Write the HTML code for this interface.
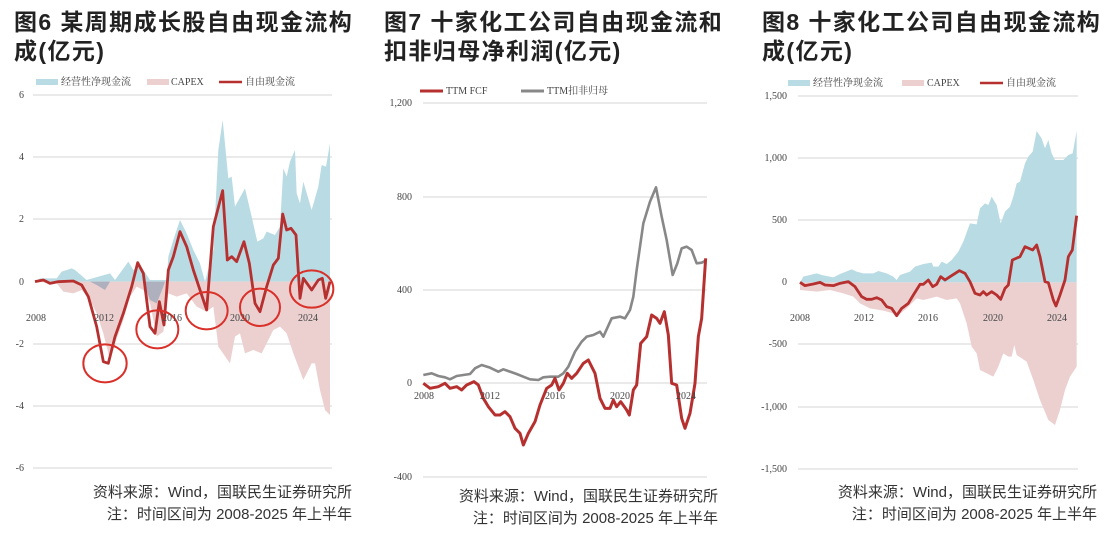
<!DOCTYPE html>
<html><head><meta charset="utf-8"><style>
body{margin:0;background:#fff;width:1114px;height:540px;overflow:hidden;font-family:"Liberation Sans","Noto Sans CJK SC",sans-serif}
.t{position:absolute;font-weight:bold;font-size:23px;letter-spacing:1.4px;line-height:29px;color:#222;font-family:"Liberation Sans","Noto Sans CJK SC",sans-serif}
.s{position:absolute;font-size:15px;line-height:22px;color:#333;text-align:right}
svg{position:absolute;left:0;top:0}
svg text{font-family:"Liberation Serif","Noto Serif CJK SC",serif;font-size:10px;fill:#444}
</style></head><body>
<div class="t" style="left:14px;top:8px">图6 某周期成长股自由现金流构<br>成(亿元)</div>
<div class="t" style="left:384px;top:8px">图7 十家化工公司自由现金流和<br>扣非归母净利润(亿元)</div>
<div class="t" style="left:762px;top:8px">图8 十家化工公司自由现金流构<br>成(亿元)</div>
<div class="s" style="right:762px;top:482px">资料来源：Wind，国联民生证券研究所<br>注：时间区间为 2008-2025 年上半年</div>
<div class="s" style="right:396px;top:486px">资料来源：Wind，国联民生证券研究所<br>注：时间区间为 2008-2025 年上半年</div>
<div class="s" style="right:17px;top:482px">资料来源：Wind，国联民生证券研究所<br>注：时间区间为 2008-2025 年上半年</div>
<svg width="1114" height="540">
<!-- chart 1 -->
<g stroke="#e4e4e4" stroke-width="1.5">
<line x1="33" x2="332" y1="95" y2="95"/><line x1="33" x2="332" y1="157" y2="157"/><line x1="33" x2="332" y1="219" y2="219"/><line x1="33" x2="332" y1="344" y2="344"/><line x1="33" x2="332" y1="406" y2="406"/><line x1="33" x2="332" y1="468" y2="468"/>
</g>
<g transform="translate(0 60) scale(0.33333)">
<polygon fill="#b9dbe3" points="105,665 120,655 170,655 185,635 215,625 225,630 260,660 330,640 345,660 385,605 400,630 420,615 450,660 500,660 505,590 520,540 540,480 560,520 580,570 600,610 615,665 640,570 655,270 668,180 685,355 695,350 705,440 735,385 755,470 772,545 790,535 800,515 825,525 840,500 850,325 860,350 870,305 885,270 890,400 900,430 910,365 935,450 955,380 965,315 978,320 990,250 990,665"/>
<polygon fill="#ecd0d0" points="105,665 170,670 190,695 220,700 245,690 270,720 290,760 310,820 330,900 345,850 370,780 390,710 410,680 430,690 450,730 470,830 490,815 505,700 530,710 560,700 590,740 620,755 640,740 655,860 690,910 705,830 720,820 735,880 760,870 785,880 820,810 840,800 860,820 880,880 910,960 935,910 945,910 960,990 975,1050 990,1065 990,665"/>
<polygon fill="#aeb0bd" points="270,665 290,675 315,690 330,665"/>
<polygon fill="#aeb0bd" points="430,665 450,720 470,730 490,680 495,665"/>
<polyline fill="none" stroke="#b5302f" stroke-width="2.8" vector-effect="non-scaling-stroke" stroke-linejoin="round" points="105,665 130,660 150,670 175,665 220,663 245,675 265,710 290,800 310,905 325,910 345,830 370,760 395,680 413,608 430,640 450,800 465,820 478,725 492,795 505,630 520,590 540,515 560,560 580,630 600,690 620,750 640,500 668,392 682,600 695,590 710,605 732,545 748,610 765,730 780,755 800,680 820,615 835,595 848,462 860,510 873,505 888,525 900,715 910,655 935,690 955,660 967,655 977,715 990,665"/>
<g fill="none" stroke="#d9302a" stroke-width="2">
<ellipse cx="315" cy="910" rx="65" ry="57" vector-effect="non-scaling-stroke"/>
<ellipse cx="472" cy="808" rx="63" ry="57" vector-effect="non-scaling-stroke"/>
<ellipse cx="620" cy="752" rx="63" ry="56" vector-effect="non-scaling-stroke"/>
<ellipse cx="780" cy="742" rx="60" ry="56" vector-effect="non-scaling-stroke"/>
<ellipse cx="935" cy="687" rx="65" ry="56" vector-effect="non-scaling-stroke"/>
</g>
</g>
<g text-anchor="end"><text x="24" y="98">6</text><text x="24" y="160">4</text><text x="24" y="222">2</text><text x="24" y="285">0</text><text x="24" y="347">-2</text><text x="24" y="409">-4</text><text x="24" y="471">-6</text></g>
<g text-anchor="middle"><text x="36" y="321">2008</text><text x="104" y="321">2012</text><text x="172" y="321">2016</text><text x="240" y="321">2020</text><text x="308" y="321">2024</text></g>
<rect x="36" y="79" width="22" height="6" fill="#b9dbe3"/><text x="61" y="85">经营性净现金流</text>
<rect x="147" y="79" width="22" height="6" fill="#ecd0d0"/><text x="171" y="85">CAPEX</text>
<line x1="219" x2="242" y1="82" y2="82" stroke="#b5302f" stroke-width="2.5"/><text x="245" y="85">自由现金流</text>

<!-- chart 2 -->
<g stroke="#e4e4e4" stroke-width="1.5">
<line x1="423" x2="707" y1="103" y2="103"/><line x1="423" x2="707" y1="197" y2="197"/><line x1="423" x2="707" y1="290" y2="290"/><line x1="423" x2="707" y1="383" y2="383"/><line x1="423" x2="707" y1="477" y2="477"/>
</g>
<g transform="translate(380 70) scale(0.33333)" fill="none" stroke-linejoin="round">
<polyline stroke="#888" stroke-width="2.6" vector-effect="non-scaling-stroke" points="130,915 155,910 175,918 195,922 210,928 230,918 250,915 270,912 285,895 305,885 330,893 355,905 370,898 390,905 410,912 430,920 450,928 475,930 490,922 510,920 535,920 550,910 565,890 585,845 605,815 620,800 640,795 660,785 670,800 695,745 720,740 735,745 750,720 760,680 770,600 790,460 810,395 828,352 845,440 860,510 878,615 892,580 905,535 920,530 935,540 950,580 965,578 977,572"/>
<polyline stroke="#b5302f" stroke-width="3" vector-effect="non-scaling-stroke" points="130,940 150,955 175,950 195,940 210,955 230,950 245,960 260,945 282,935 295,945 310,985 325,1010 345,1035 360,1035 375,1025 390,1040 405,1075 420,1090 430,1125 445,1090 465,1055 480,1005 500,955 515,945 525,925 537,960 550,940 562,910 575,925 590,910 610,880 625,870 645,910 660,985 675,1015 690,1015 700,990 710,1010 722,995 740,1020 748,1035 760,960 770,945 782,820 800,800 815,735 830,745 840,760 853,725 865,795 875,940 890,945 905,1045 915,1075 930,1030 945,940 955,800 965,745 977,565"/>
</g>
<g text-anchor="end"><text x="412" y="106">1,200</text><text x="412" y="200">800</text><text x="412" y="293">400</text><text x="412" y="386">0</text><text x="412" y="480">-400</text></g>
<g text-anchor="middle"><text x="424" y="399">2008</text><text x="490" y="399">2012</text><text x="555" y="399">2016</text><text x="620" y="399">2020</text><text x="686" y="399">2024</text></g>
<line x1="420" x2="443" y1="91" y2="91" stroke="#b5302f" stroke-width="3"/><text x="446" y="94">TTM FCF</text>
<line x1="521" x2="544" y1="91" y2="91" stroke="#888" stroke-width="3"/><text x="547" y="94">TTM扣非归母</text>

<!-- chart 3 -->
<g stroke="#e4e4e4" stroke-width="1.5">
<line x1="798" x2="1078" y1="96" y2="96"/><line x1="798" x2="1078" y1="158" y2="158"/><line x1="798" x2="1078" y1="220" y2="220"/><line x1="798" x2="1078" y1="344" y2="344"/><line x1="798" x2="1078" y1="407" y2="407"/><line x1="798" x2="1078" y1="469" y2="469"/>
</g>
<g transform="translate(750 60) scale(0.33333)">
<polygon fill="#b9dbe3" points="150,667 160,650 200,640 215,645 250,652 270,642 305,628 320,635 340,640 370,640 385,633 410,640 430,650 440,660 450,645 480,635 495,620 520,612 545,608 550,620 565,620 575,605 590,612 605,600 625,575 640,545 660,490 680,493 690,445 705,430 715,435 725,410 740,435 752,490 765,455 780,440 790,410 800,370 810,365 825,310 835,290 848,275 860,213 875,235 885,265 895,240 905,280 915,300 925,300 940,300 955,285 968,280 980,213 980,667"/>
<polygon fill="#ecd0d0" points="150,667 150,690 200,695 240,690 280,700 310,710 330,730 360,745 400,752 430,760 440,770 470,745 500,715 520,720 560,710 590,720 620,715 630,730 650,790 665,860 680,880 690,930 720,945 730,950 745,920 760,880 775,890 785,890 793,855 800,885 830,905 850,960 870,1020 895,1080 915,1095 930,1050 945,990 960,950 980,920 980,667"/>
<polyline fill="none" stroke="#b5302f" stroke-width="2.8" vector-effect="non-scaling-stroke" stroke-linejoin="round" points="150,667 165,677 190,672 210,667 225,675 250,677 270,670 295,665 315,680 335,710 350,718 365,718 380,713 395,720 410,740 425,745 440,767 455,745 475,730 490,705 510,673 520,673 535,660 548,680 560,673 572,650 585,660 600,650 628,632 645,640 660,665 675,700 690,705 700,695 710,705 725,695 740,705 752,718 765,685 775,675 787,600 810,590 825,560 848,570 860,555 870,590 885,665 895,668 910,720 918,738 930,705 945,660 955,590 967,570 980,467"/>
</g>
<g text-anchor="end"><text x="787" y="99">1,500</text><text x="787" y="161">1,000</text><text x="787" y="223">500</text><text x="787" y="285">0</text><text x="787" y="347">-500</text><text x="787" y="410">-1,000</text><text x="787" y="472">-1,500</text></g>
<g text-anchor="middle"><text x="800" y="321">2008</text><text x="864" y="321">2012</text><text x="928" y="321">2016</text><text x="993" y="321">2020</text><text x="1057" y="321">2024</text></g>
<rect x="788" y="80" width="22" height="6" fill="#b9dbe3"/><text x="813" y="86">经营性净现金流</text>
<rect x="902" y="80" width="22" height="6" fill="#ecd0d0"/><text x="927" y="86">CAPEX</text>
<line x1="980" x2="1003" y1="83" y2="83" stroke="#b5302f" stroke-width="2.5"/><text x="1006" y="86">自由现金流</text>
</svg>
</body></html>
